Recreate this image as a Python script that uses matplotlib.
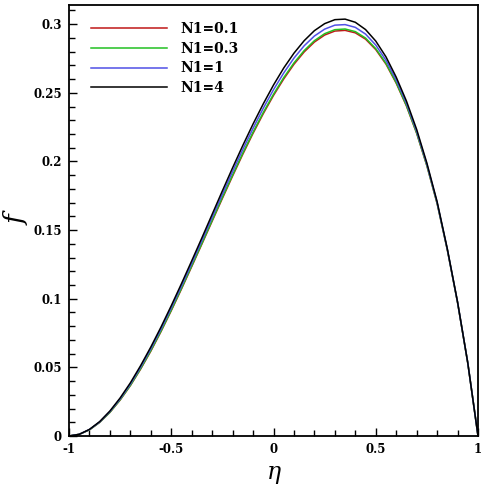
import numpy as np
import matplotlib
matplotlib.use("Agg")
import matplotlib.pyplot as plt
from matplotlib.ticker import MultipleLocator

# eta grid, step 0.05
eta = [-1.0, -0.95, -0.9, -0.85, -0.8, -0.75, -0.7, -0.65, -0.6, -0.55,
       -0.5, -0.45, -0.4, -0.35, -0.3, -0.25, -0.2, -0.15, -0.1, -0.05,
       0.0, 0.05, 0.1, 0.15, 0.2, 0.25, 0.3, 0.35, 0.4, 0.45,
       0.5, 0.55, 0.6, 0.65, 0.7, 0.75, 0.8, 0.85, 0.9, 0.95, 1.0]

f_n01 = [0.0, 0.0012, 0.0045, 0.0099, 0.0172, 0.0262, 0.0367, 0.0487, 0.0618, 0.0761,
         0.0913, 0.1071, 0.1234, 0.1399, 0.1565, 0.1731, 0.1894, 0.2053, 0.2205, 0.2348,
         0.2481, 0.2601, 0.2708, 0.2798, 0.2870, 0.2921, 0.2950, 0.2955, 0.2937, 0.2891,
         0.2815, 0.2709, 0.2570, 0.2404, 0.2205, 0.1968, 0.1693, 0.1355, 0.0972, 0.0531, 0.0]

f_n03 = [0.0, 0.0012, 0.0045, 0.0100, 0.0173, 0.0264, 0.0369, 0.0490, 0.0622, 0.0765,
         0.0917, 0.1076, 0.1239, 0.1404, 0.1571, 0.1738, 0.1901, 0.2061, 0.2213, 0.2357,
         0.2490, 0.2611, 0.2718, 0.2808, 0.2880, 0.2931, 0.2960, 0.2965, 0.2946, 0.2899,
         0.2822, 0.2715, 0.2575, 0.2408, 0.2208, 0.1970, 0.1695, 0.1356, 0.0972, 0.0531, 0.0]

f_n1 = [0.0, 0.0012, 0.0047, 0.0102, 0.0178, 0.0270, 0.0378, 0.0501, 0.0635, 0.0779,
        0.0933, 0.1092, 0.1257, 0.1424, 0.1593, 0.1761, 0.1927, 0.2088, 0.2242, 0.2388,
        0.2523, 0.2645, 0.2753, 0.2843, 0.2914, 0.2964, 0.2993, 0.2997, 0.2977, 0.2928,
        0.2848, 0.2737, 0.2594, 0.2424, 0.2220, 0.1979, 0.1701, 0.1359, 0.0974, 0.0532, 0.0]

f_n4 = [0.0, 0.0012, 0.0048, 0.0105, 0.0182, 0.0277, 0.0387, 0.0512, 0.0648, 0.0794,
        0.0949, 0.1110, 0.1276, 0.1444, 0.1615, 0.1786, 0.1954, 0.2117, 0.2273, 0.2420,
        0.2557, 0.2681, 0.2789, 0.2880, 0.2953, 0.3004, 0.3033, 0.3037, 0.3014, 0.2961,
        0.2877, 0.2762, 0.2614, 0.2440, 0.2233, 0.1988, 0.1707, 0.1363, 0.0976, 0.0532, 0.0]

labels = ["N1=0.1", "N1=0.3", "N1=1", "N1=4"]
colors = ["#c01818", "#22c022", "#5050e6", "black"]
xticks = [-1, -0.5, 0, 0.5, 1]
xticklabels = ["-1", "-0.5", "0", "0.5", "1"]
yticks = [0, 0.05, 0.1, 0.15, 0.2, 0.25, 0.3]
yticklabels = ["0", "0.05", "0.1", "0.15", "0.2", "0.25", "0.3"]

fig = plt.figure(figsize=(4.85, 4.88), dpi=100)
ax = fig.add_axes([0.1423, 0.1066, 0.8433, 0.8832])

for y, lab, c in zip([f_n01, f_n03, f_n1, f_n4], labels, colors):
    ax.plot(eta, y, color=c, lw=1.1, label=lab)

ax.set_xlim(-1, 1)
ax.set_ylim(0, 0.314)
ax.set_xticks(xticks)
ax.set_xticklabels(xticklabels)
ax.set_yticks(yticks)
ax.set_yticklabels(yticklabels)
ax.xaxis.set_minor_locator(MultipleLocator(0.1))
ax.yaxis.set_minor_locator(MultipleLocator(0.01))
ax.tick_params(which="both", direction="in", top=False, right=False, width=1)
ax.tick_params(which="major", length=6, pad=5)
ax.tick_params(which="minor", length=4)
for s in ax.spines.values():
    s.set_linewidth(1.3)

for t in ax.get_xticklabels() + ax.get_yticklabels():
    t.set_fontfamily("DejaVu Serif")
    t.set_fontweight("bold")
    t.set_fontsize(8.5)

ax.set_xlabel("η", fontsize=17, fontfamily="DejaVu Serif", fontstyle="italic", labelpad=4)
ax.set_ylabel("f", fontsize=19, fontfamily="DejaVu Serif", fontstyle="italic", labelpad=3)

leg = ax.legend(loc="upper left", bbox_to_anchor=(0.022, 0.99), frameon=False,
                handlelength=5.5, handletextpad=1.0, labelspacing=0.42,
                borderaxespad=0.5,
                prop={"family": "DejaVu Serif", "weight": "bold", "size": 10})

plt.savefig("out.png", dpi=100)
